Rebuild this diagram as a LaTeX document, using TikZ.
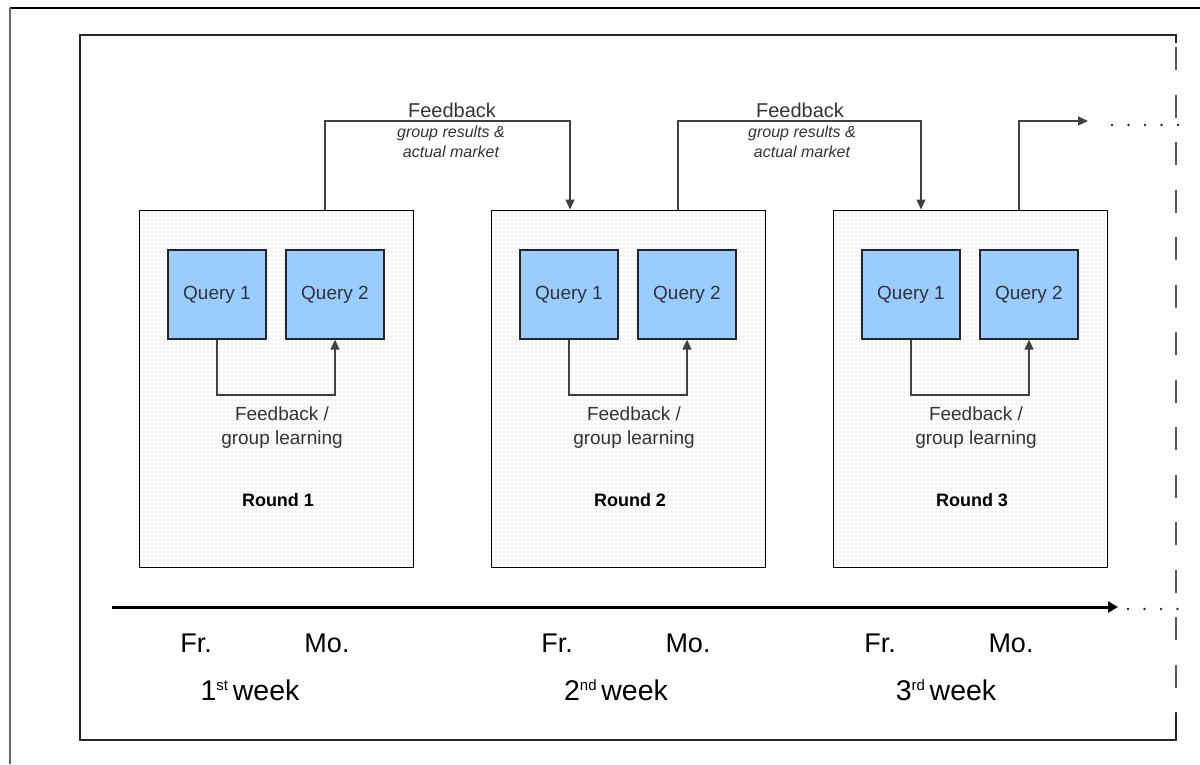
\documentclass[tikz,border=0pt]{standalone}
\usepackage{fontspec}
\setmainfont{Liberation Sans}
\usetikzlibrary{arrows.meta,patterns,calc}
\pgfdeclarepatternformonly{mydots}{\pgfqpoint{-1pt}{-1pt}}{\pgfqpoint{1pt}{1pt}}{\pgfqpoint{4pt}{4pt}}{\pgfpathcircle{\pgfqpoint{0pt}{0pt}}{0.6pt}\pgfusepath{fill}}
\definecolor{qblue}{HTML}{99CCFF}
\definecolor{txt}{HTML}{333333}
\tikzset{
  roundbox/.style={draw=black, line width=1pt, minimum width=274pt, minimum height=357pt, inner sep=0pt},
  roundfill/.style={pattern=mydots, pattern color=black!30},
  querybox/.style={draw=black!85, line width=1.3pt, fill=qblue, minimum width=98pt, minimum height=89pt, inner sep=0pt, text=txt, font=\fontsize{19}{22}\selectfont},
  conn/.style={draw=black!75, line width=1.2pt},
  tip/.style={-{Triangle[length=10pt,width=9pt]}},
  fbtxt/.style={text=txt, font=\fontsize{19}{24}\selectfont, align=center},
  roundlbl/.style={font=\bfseries\fontsize{18}{22}\selectfont, text=black},
  toptxt/.style={text=txt, font=\fontsize{20}{24}\selectfont},
  subtxt/.style={text=txt, font=\itshape\fontsize{16}{20}\selectfont, align=center},
  daytxt/.style={text=black, font=\fontsize{27}{30}\selectfont},
  weektxt/.style={text=black, font=\fontsize{28.5}{30}\selectfont},
  dotline/.style={line width=2.6pt, line cap=round, dash pattern=on 0pt off 16.5pt, black!85}
}
\newcommand{\sups}[1]{\raisebox{10pt}{\fontsize{15}{15}\selectfont #1}}
\begin{document}
\begin{tikzpicture}[x=1pt,y=-1pt]
\useasboundingbox (0,0) rectangle (1200,764);
% outer frame
\draw[black, line width=1.2pt] (10,8) -- (1200,8);
\draw[black!60, line width=1.6pt] (10,8) -- (10,764);
% inner frame
\draw[black!85, line width=1.3pt] (1176,43) -- (1176,35) -- (80,35) -- (80,740) -- (1176,740) -- (1176,713);
\draw[black!65, line width=1.3pt, dash pattern=on 23pt off 24.5pt] (1176,47) -- (1176,713);

% rounds
\foreach \n/\cx in {1/276,2/628,3/970}{
  \fill[white] (\cx-137,210) rectangle (\cx+137,567);
  \fill[roundfill] (\cx-137,210) rectangle (\cx+137,567);
  \node[roundbox] (r\n) at (\cx,388.5) {};
  \node[querybox] (q\n a) at (\cx-59,294.5) {Query 1};
  \node[querybox] (q\n b) at (\cx+59,294.5) {Query 2};
  \coordinate (m\n) at (\cx,395);
  \draw[conn, tip] (q\n a.south) |- (m\n) -| (q\n b.south);
  \node[fbtxt] (fb\n) at (\cx+6,428) {Feedback /\\group learning};
  \node[roundlbl] (rl\n) at (\cx+2,500) {Round \n};
}

% feedback between rounds
\coordinate (s1) at ([xshift=49pt]r1.north);
\coordinate (d2) at ([xshift=-58pt]r2.north);
\coordinate (s2) at ([xshift=50pt]r2.north);
\coordinate (d3) at ([xshift=-49pt]r3.north);
\coordinate (s3) at ([xshift=49pt]r3.north);
\coordinate (t1) at (325,121);
\coordinate (e3) at (1088,121);
\draw[conn, tip] (s1) -- (s1 |- t1) -| (d2);
\draw[conn, tip] (s2) -- (s2 |- t1) -| (d3);
\draw[conn, tip] (s3) |- (e3);
\draw[dotline] (1112,125) -- (1180,125);

\node[toptxt] (ft1) at (452,110) {Feedback};
\node[subtxt] (fs1) at (451,141.5) {group results \&\\actual market};
\node[toptxt] (ft2) at (800,110) {Feedback};
\node[subtxt] (fs2) at (802,141.5) {group results \&\\actual market};

% time axis
\coordinate (a0) at (112,607);
\coordinate (a1) at (1118,607);
\draw[black, line width=3pt, -{Triangle[length=10pt,width=11pt]}] (a0) -- (a1);
\draw[dotline] (1128,609) -- (1180,609);

\foreach \x/\lbl [count=\i] in {196/Fr.,327/Mo.,557/Fr.,688/Mo.,880/Fr.,1011/Mo.}{
  \node[daytxt] (d\i) at (\x,643) {\lbl};
}
\node[weektxt] (w1) at (250,690) {1\sups{st}\,week};
\node[weektxt] (w2) at (616,690) {2\sups{nd}\,week};
\node[weektxt] (w3) at (946,690) {3\sups{rd}\,week};
\end{tikzpicture}
\end{document}
